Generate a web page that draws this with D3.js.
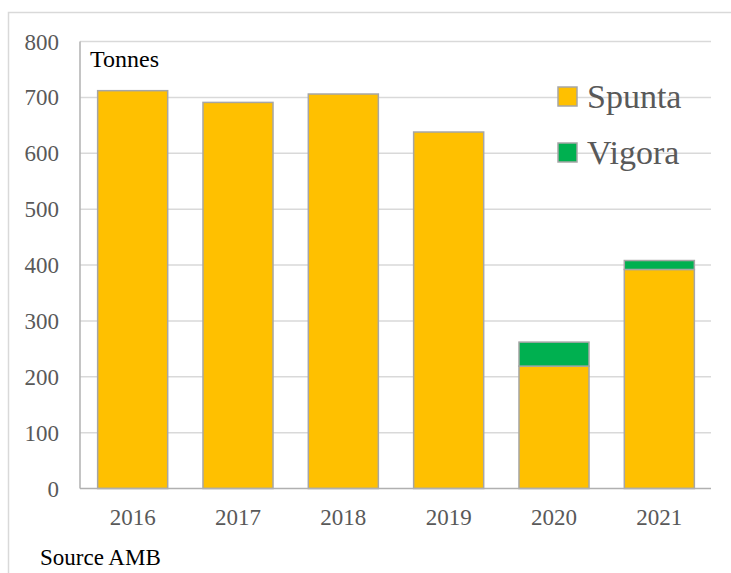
<!DOCTYPE html>
<html>
<head>
  <style>
    body { margin: 0; background: #fff; }
  </style>
</head>
<body>
  <div id="chart"></div>
  <script src="https://d3js.org/d3.v7.min.js"></script>
  <script>
    // Data
    const years = ["2016", "2017", "2018", "2019", "2020", "2021"];
    const spunta = [712, 691, 706, 638, 219, 392];
    const vigora = [0, 0, 0, 0, 43, 16];
    const seriesNames = ["Spunta", "Vigora"];
    const seriesColors = ["#ffc000", "#00b050"];
    const yTicks = [0, 100, 200, 300, 400, 500, 600, 700, 800];

    const width = 731, height = 573;
    const serif = "'Liberation Serif', 'Times New Roman', 'DejaVu Serif', serif";

    const svg = d3.select("#chart")
      .append("svg")
      .attr("width", width)
      .attr("height", height)
      .style("font-family", serif);

    // outer chart frame (only top and left are inside the picture)
    svg.append("path")
      .attr("d", "M8.5," + height + " V12.5 H" + width)
      .attr("fill", "none")
      .attr("stroke", "#d9d9d9")
      .attr("stroke-width", 1.5);

    const x = d3.scaleBand()
      .domain(years)
      .range([80, 712])
      .paddingInner(0.335)
      .paddingOuter(0.1675);

    const y = d3.scaleLinear()
      .domain([0, 800])
      .range([488.5, 41.5]);

    // gridlines
    svg.append("g")
      .selectAll("line")
      .data(yTicks.slice(1))
      .enter()
      .append("line")
      .attr("x1", 80)
      .attr("x2", 711)
      .attr("y1", d => y(d))
      .attr("y2", d => y(d))
      .attr("stroke", "#d9d9d9")
      .attr("stroke-width", 1.5);

    // y labels
    svg.append("g")
      .selectAll("text")
      .data(yTicks)
      .enter()
      .append("text")
      .attr("x", 59)
      .attr("y", d => y(d) + 8)
      .attr("text-anchor", "end")
      .attr("font-family", serif)
      .attr("font-size", 23)
      .attr("fill", "#595959")
      .text(d => d);

    // stacked bars
    const table = years.map((yr, i) => ({ year: yr, Spunta: spunta[i], Vigora: vigora[i] }));
    const stacked = d3.stack().keys(seriesNames)(table);

    svg.append("g")
      .selectAll("g")
      .data(stacked)
      .enter()
      .append("g")
      .attr("fill", (d, i) => seriesColors[i])
      .selectAll("rect")
      .data(d => d.filter(s => s[1] - s[0] > 0))
      .enter()
      .append("rect")
      .attr("x", d => x(d.data.year))
      .attr("width", x.bandwidth())
      .attr("y", d => y(d[1]))
      .attr("height", d => y(d[0]) - y(d[1]))
      .attr("stroke", "#a6a6a6")
      .attr("stroke-width", 1.5);

    // axes lines
    svg.append("line")
      .attr("x1", 80).attr("x2", 80)
      .attr("y1", y(800)).attr("y2", y(0))
      .attr("stroke", "#b0b0b0")
      .attr("stroke-width", 1.5);

    svg.append("line")
      .attr("x1", 80).attr("x2", 711)
      .attr("y1", y(0)).attr("y2", y(0))
      .attr("stroke", "#b0b0b0")
      .attr("stroke-width", 1.5);

    // x labels
    svg.append("g")
      .selectAll("text")
      .data(years)
      .enter()
      .append("text")
      .attr("x", d => x(d) + x.bandwidth() / 2)
      .attr("y", 525)
      .attr("text-anchor", "middle")
      .attr("font-family", serif)
      .attr("font-size", 23)
      .attr("fill", "#595959")
      .text(d => d);

    // unit label
    svg.append("text")
      .attr("x", 90)
      .attr("y", 67)
      .attr("font-family", serif)
      .attr("font-size", 24)
      .attr("fill", "#000")
      .text("Tonnes");

    // legend
    const legend = svg.append("g")
      .selectAll("g")
      .data(seriesNames)
      .enter()
      .append("g")
      .attr("transform", (d, i) => `translate(558, ${96.5 + i * 56})`);

    legend.append("rect")
      .attr("x", 0)
      .attr("y", -9.5)
      .attr("width", 19)
      .attr("height", 19)
      .attr("fill", (d, i) => seriesColors[i])
      .attr("stroke", "#a6a6a6")
      .attr("stroke-width", 1.5);

    legend.append("text")
      .attr("x", 29)
      .attr("y", 11)
      .attr("font-family", serif)
      .attr("font-size", 34)
      .attr("fill", "#595959")
      .text(d => d);

    // source
    svg.append("text")
      .attr("x", 40)
      .attr("y", 565)
      .attr("font-family", serif)
      .attr("font-size", 23)
      .attr("fill", "#000")
      .text("Source AMB");
  </script>
</body>
</html>
